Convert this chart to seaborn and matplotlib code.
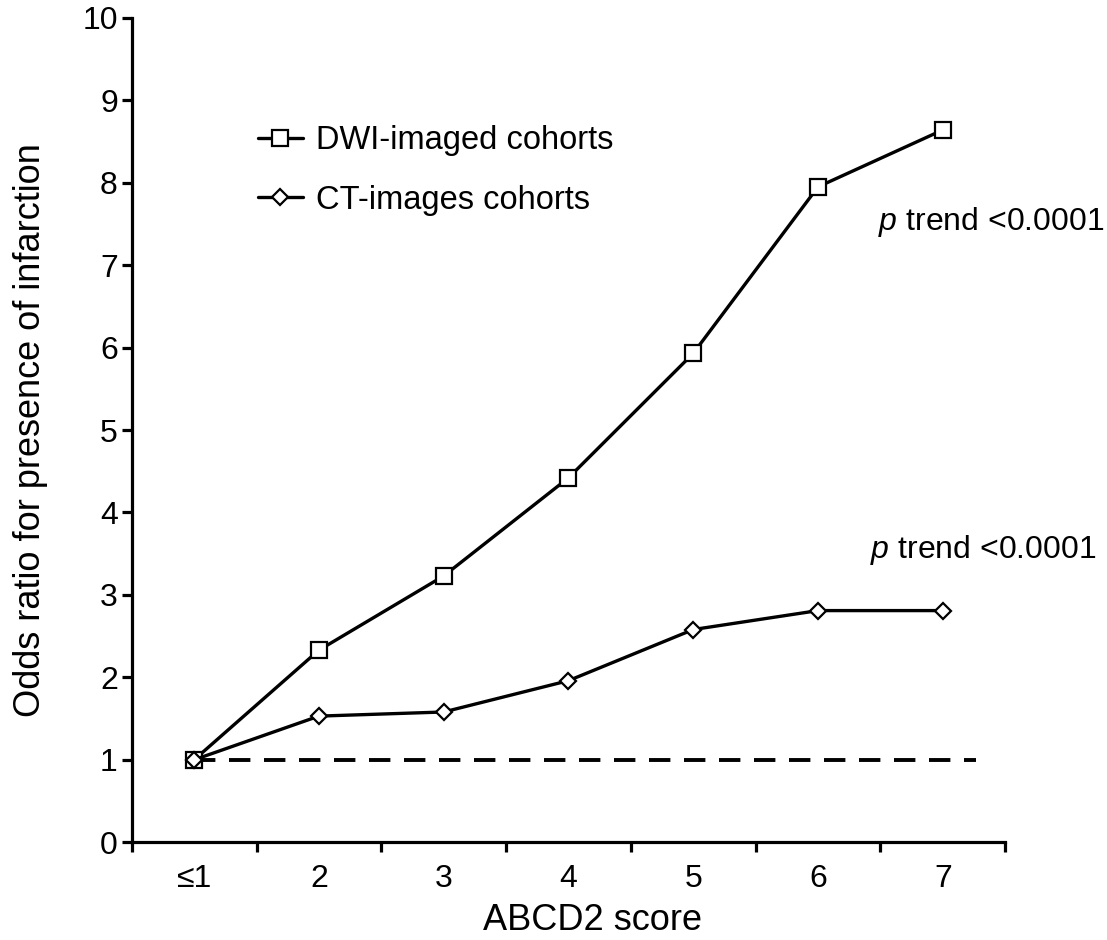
import seaborn as sns
import matplotlib.pyplot as plt
import pandas as pd

scores = ["≤1", "2", "3", "4", "5", "6", "7"]
dwi_or = [1.0, 2.33, 3.23, 4.42, 5.93, 7.95, 8.64]
ct_or = [1.0, 1.53, 1.58, 1.96, 2.58, 2.81, 2.81]
series_names = ["DWI-imaged cohorts", "CT-images cohorts"]
p_labels = ["$p$ trend <0.0001", "$p$ trend <0.0001"]

sns.set_style("white")
plt.rcParams["font.family"] = ["Liberation Sans", "DejaVu Sans"]
plt.rcParams["mathtext.fontset"] = "custom"
plt.rcParams["mathtext.it"] = "Liberation Sans:italic"
plt.rcParams["mathtext.rm"] = "Liberation Sans"
plt.rcParams["text.color"] = "black"
plt.rcParams["axes.labelcolor"] = "black"
plt.rcParams["xtick.color"] = "black"
plt.rcParams["ytick.color"] = "black"

df = pd.DataFrame({
    "score": scores * 2,
    "odds": dwi_or + ct_or,
    "cohort": [series_names[0]] * len(scores) + [series_names[1]] * len(scores),
})

fig = plt.figure(figsize=(11.07, 9.4), dpi=100)
ax = fig.add_axes([0.119, 0.104, 0.789, 0.877])

# reference line at OR = 1
ax.hlines(1, 0, 6.27, colors="black", linestyles=(0, (5.5, 3.5)), linewidth=2.8, zorder=1)

sns.lineplot(data=df[df.cohort == series_names[0]], x="score", y="odds", ax=ax,
             color="black", linewidth=2.4, marker="s", markersize=12,
             markerfacecolor="white", markeredgecolor="black", markeredgewidth=1.6,
             label=series_names[0], zorder=3)
sns.lineplot(data=df[df.cohort == series_names[1]], x="score", y="odds", ax=ax,
             color="black", linewidth=2.4, marker="D", markersize=8,
             markerfacecolor="white", markeredgecolor="black", markeredgewidth=1.6,
             label=series_names[1], zorder=3)

ax.set_xlim(-0.5, 6.5)
ax.set_ylim(0, 10)
ax.set_yticks(range(0, 11))
ax.set_xticks(range(len(scores)))
ax.set_xticklabels(scores)
ax.set_xticks([i - 0.5 for i in range(len(scores) + 1)], minor=True)

for s in ["top", "right"]:
    ax.spines[s].set_visible(False)
for s in ["left", "bottom"]:
    ax.spines[s].set_linewidth(2.3)
    ax.spines[s].set_color("black")

ax.tick_params(axis="y", which="major", direction="out", length=7, width=2.3,
               labelsize=23, pad=3, left=True)
ax.tick_params(axis="x", which="major", length=0, labelsize=23, pad=16)
ax.tick_params(axis="x", which="minor", direction="out", length=7, width=2.3, bottom=True)

ax.set_xlabel("ABCD2 score", fontsize=26)
ax.set_ylabel("Odds ratio for presence of infarction", fontsize=26, labelpad=25)
ax.xaxis.set_label_coords(0.527, -0.074)

ax.text(5.48, 7.52, p_labels[0], fontsize=23, ha="left", va="center")
ax.text(5.42, 3.54, p_labels[1], fontsize=23, ha="left", va="center")

ax.legend(loc="upper left", bbox_to_anchor=(0.144, 0.870), frameon=False,
          fontsize=23.5, handlelength=1.4, handletextpad=0.4, labelspacing=0.88,
          borderpad=0, borderaxespad=0)

fig.savefig("out.png", dpi=100)
